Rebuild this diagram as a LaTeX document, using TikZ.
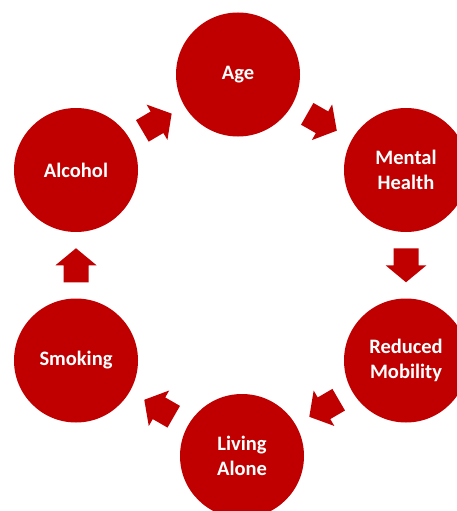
\documentclass[tikz,border=0pt]{standalone}
\usepackage{fontspec}
\setmainfont{Carlito}
\definecolor{cred}{HTML}{C00000}
\tikzset{
  factor/.style={circle, fill=cred, minimum size=124pt, inner sep=0pt, text=white,
    font=\bfseries\fontsize{20.5}{24.5}\selectfont, align=center},
  pics/blockarr/.style={code={
    \fill[cred] (-17pt,-12.5pt) -- (0pt,-12.5pt) -- (0pt,-20.5pt) -- (17pt,0pt)
      -- (0pt,20.5pt) -- (0pt,12.5pt) -- (-17pt,12.5pt) -- cycle;}},
  flow/.style={pos=0.5, sloped, allow upside down}
}
\begin{document}
\begin{tikzpicture}[x=1pt,y=-1pt]
\clip (0,0) rectangle (457,511);
\node[factor] (age) at (238,74.5) {Age};
\node[factor] (mh)  at (406,170)  {Mental\\Health};
\node[factor] (rm)  at (406,360.5) {Reduced\\Mobility};
\node[factor] (la)  at (242,456)  {Living\\Alone};
\node[factor] (sm)  at (76,360.5) {Smoking};
\node[factor] (al)  at (76,170)   {Alcohol};
\path (al) -- (age) pic[flow]{blockarr};
\path (age) -- (mh) pic[flow]{blockarr};
\path (mh) -- (rm) pic[flow]{blockarr};
\path (rm) -- (la) pic[flow]{blockarr};
\path (la) -- (sm) pic[flow]{blockarr};
\path (sm) -- (al) pic[flow]{blockarr};
\end{tikzpicture}
\end{document}
